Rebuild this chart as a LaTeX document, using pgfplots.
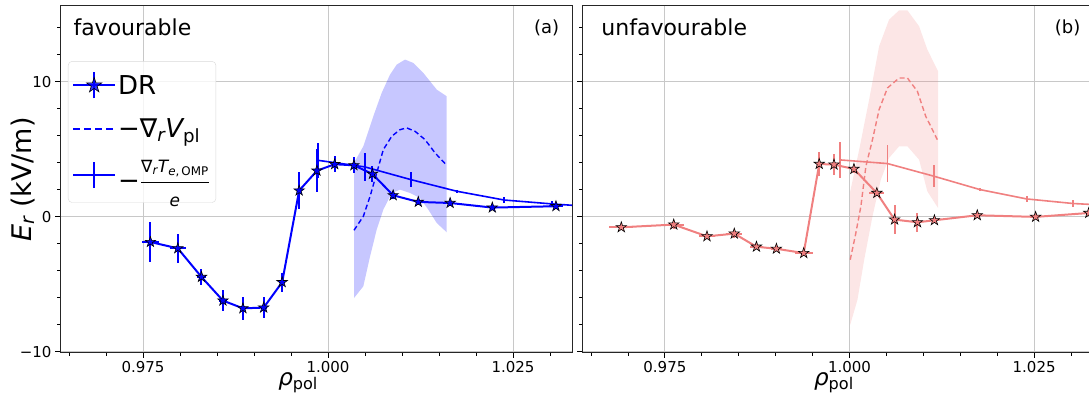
\documentclass[border=0pt]{standalone}
\usepackage{amsmath}
\usepackage{pgfplots}
\pgfplotsset{compat=1.18}
\usepackage{fontspec}
\setmainfont{DejaVu Sans}
\usetikzlibrary{plotmarks}
\definecolor{lcoral}{RGB}{240,128,128}
\definecolor{gridgray}{RGB}{200,200,200}
\pgfdeclareplotmark{pstar}{%
  \pgfpathmoveto{\pgfpointpolar{90}{\pgfplotmarksize}}%
  \pgfpathlineto{\pgfpointpolar{126}{0.382\pgfplotmarksize}}%
  \pgfpathlineto{\pgfpointpolar{162}{\pgfplotmarksize}}%
  \pgfpathlineto{\pgfpointpolar{198}{0.382\pgfplotmarksize}}%
  \pgfpathlineto{\pgfpointpolar{234}{\pgfplotmarksize}}%
  \pgfpathlineto{\pgfpointpolar{270}{0.382\pgfplotmarksize}}%
  \pgfpathlineto{\pgfpointpolar{306}{\pgfplotmarksize}}%
  \pgfpathlineto{\pgfpointpolar{342}{0.382\pgfplotmarksize}}%
  \pgfpathlineto{\pgfpointpolar{18}{\pgfplotmarksize}}%
  \pgfpathlineto{\pgfpointpolar{54}{0.382\pgfplotmarksize}}%
  \pgfpathclose
  \pgfusepathqfillstroke
}
\newcommand{\fs}[1]{\fontsize{#1}{#1}\selectfont}
\pgfplotsset{
  panel/.style={
    scale only axis, width=511pt, height=347pt,
    xmin=0.96378, xmax=1.03297, ymin=-10.1, ymax=15.6,
    xtick={0.975,1.000,1.025}, xticklabels={0.975,1.000,1.025},
    minor xtick={0.965,0.970,0.980,0.985,0.990,0.995,1.005,1.010,1.015,1.020,1.030},
    ytick={-10,0,10},
    minor ytick={-8,-6,-4,-2,2,4,6,8,12,14},
    tick pos=left, tick align=outside,
    major tick length=5pt, minor tick length=3pt,
    every tick/.style={black, line width=0.8pt},
    grid=major, major grid style={gridgray, line width=0.9pt},
    axis line style={black!85, line width=1pt},
    tick label style={font=\fs{15}},
    /pgf/number format/assume math mode=true,
    clip=true,
  },
  drstyle/.style={#1, line width=2pt, mark=pstar, mark size=5.5pt,
    mark options={draw=black, fill=#1, line width=0.6pt, solid},
    error bars/x dir=both, error bars/x explicit,
    error bars/y dir=both, error bars/y explicit,
    error bars/error mark=none, error bars/error bar style={line width=2pt}},
  testyle/.style={line width=1.6pt, mark=none,
    error bars/y dir=both, error bars/y explicit,
    error bars/error mark=none, error bars/error bar style={line width=1.6pt}},
}
\begin{document}
\begin{tikzpicture}
\useasboundingbox (0,0) rectangle (1089pt,398pt);
% ---------------- left panel ----------------
\begin{axis}[panel, at={(60pt,45pt)}, anchor=south west, width=512pt,
  yticklabels={−10,0,10},
  ylabel={{\itshape E}\textsubscript{\itshape r} (kV/m)},
  ylabel style={font=\fs{27}, at={(axis description cs:-0.073,0.5)}, anchor=center, rotate=0},
  xlabel={{\itshape ρ}\textsubscript{pol}},
  xlabel style={font=\fs{23}, at={(axis description cs:0.465,-0.095)}, anchor=base},
  reverse legend,
  legend style={at={(axis description cs:0.0156,0.841)}, anchor=north west,
    draw=black!15, rounded corners=4pt, fill=white, fill opacity=0.8, text opacity=1,
    inner xsep=4pt, inner ysep=10pt, row sep=17pt, font=\fs{26},
    /tikz/every even column/.append style={column sep=6pt}},
  legend cell align=left,
]
\addplot[fill=blue, fill opacity=0.22, draw=none, forget plot] coordinates {
(1.00351,3.98) (1.00477,5.21) (1.00612,7.43) (1.00725,9.16) (1.00838,10.52)
(1.00928,11.26) (1.01041,11.63) (1.01153,11.38) (1.01288,10.64) (1.01469,9.41) (1.01604,8.91)
(1.01604,-1.16) (1.01469,-0.47) (1.01355,0.52) (1.01243,1.38) (1.01108,1.75)
(1.00973,2.0) (1.00861,1.75) (1.00747,0.52) (1.00658,-0.96) (1.00568,-2.94)
(1.00477,-5.16) (1.00351,-6.03)};
\addplot[testyle, blue,
  legend image code/.code={
    \draw[blue, line width=2pt] (0pt,0pt) -- (42pt,0pt);
    \draw[blue, line width=2pt] (21pt,-13pt) -- (21pt,13pt);}]
 coordinates {
(0.99865,4.17) +- (0,1.3)
(1.0050,3.68) +- (0,1.05)
(1.0112,2.74) +- (0,0.55)
(1.0174,1.88) +- (0,0.1)
(1.0238,1.23) +- (0,0.2)
(1.0303,0.94) +- (0,0.25)
(1.0335,0.82) +- (0,0)};
\addlegendentry{−$\genfrac{}{}{1pt}{0}{\hbox{\fs{17}∇\textsubscript{\itshape r}{\itshape T}\textsubscript{{\itshape e},\,OMP}}}{\hbox{\fs{17}\itshape e}}$}
\addplot[blue, line width=1.4pt, dash pattern=on 5pt off 3pt,
  legend image code/.code={
    \draw[blue, line width=2pt, dash pattern=on 7pt off 4pt] (0pt,0pt) -- (42pt,0pt);}]
 coordinates {
(1.00351,-1.01) (1.00477,0.02) (1.00568,1.5) (1.00658,3.23) (1.00747,4.96)
(1.00861,5.95) (1.00973,6.44) (1.01063,6.57) (1.01176,6.32) (1.01311,5.70)
(1.01446,4.72) (1.01595,3.85)};
\addlegendentry{−∇\textsubscript{\itshape r}{\itshape V}\textsubscript{pl}}
\addplot[drstyle=blue,
  legend image code/.code={
    \draw[blue, line width=2pt] (0pt,0pt) -- (42pt,0pt);
    \draw[blue, line width=2pt] (21pt,-13pt) -- (21pt,13pt);
    \draw[black, fill=blue, line width=0.6pt] plot[mark=pstar, mark size=8pt] coordinates {(21pt,0pt)};}]
 coordinates {
(0.9760,-1.88) +- (0.0011,1.48)
(0.9797,-2.35) +- (0.0011,1.1)
(0.9829,-4.47) +- (0.0006,0.6)
(0.9858,-6.22) +- (0.0006,0.8)
(0.9885,-6.79) +- (0.0004,0.86)
(0.9913,-6.74) +- (0.0004,0.8)
(0.9938,-4.86) +- (0.0004,0.7)
(0.9961,1.93) +- (0.0003,1.4)
(0.9985,3.40) +- (0.0003,1.6)
(1.0009,3.88) +- (0.0003,0.6)
(1.0035,3.80) +- (0.0003,0.6)
(1.0060,3.16) +- (0.0003,0.6)
(1.0088,1.58) +- (0.0003,0.3)
(1.0122,1.09) +- (0.0003,0.2)
(1.0165,1.01) +- (0.0003,0.2)
(1.0222,0.67) +- (0.0003,0.2)
(1.0308,0.77) +- (0.0010,0.2)};
\addlegendentry{DR}
\node[anchor=base west, font=\fs{22}] at (axis description cs:0.0195,0.916) {favourable};
\node[anchor=base east, font=\fs{18}] at (axis description cs:0.982,0.922) {(a)};
\end{axis}
% ---------------- right panel ----------------
\begin{axis}[panel, at={(582pt,45pt)}, anchor=south west,
  yticklabels={},
  xlabel={{\itshape ρ}\textsubscript{pol}},
  xlabel style={font=\fs{23}, at={(axis description cs:0.493,-0.095)}, anchor=base},
]
\addplot[fill=lcoral, fill opacity=0.2, draw=none] coordinates {
(1.0001,1.87) (1.00131,4.96) (1.00266,8.67) (1.00401,12.62) (1.00536,14.59)
(1.00672,15.28) (1.00784,15.28) (1.00942,14.1) (1.01054,12.37) (1.01199,10.76)
(1.01199,0.64) (1.01054,1.87) (1.00942,4.22) (1.00784,5.21) (1.00672,5.21)
(1.00536,4.35) (1.00424,2.74) (1.00311,0.02) (1.00199,-3.19) (1.00108,-6.15) (1.0001,-8.0)};
\addplot[testyle, lcoral] coordinates {
(0.99874,4.20) +- (0,1.35)
(1.00514,3.93) +- (0,1.36)
(1.01145,2.99) +- (0,0.8)
(1.01768,2.0) +- (0,0.1)
(1.0240,1.31) +- (0,0.2)
(1.0303,0.97) +- (0,0.25)
(1.0335,0.88) +- (0,0)};
\addplot[lcoral, line width=1.4pt, dash pattern=on 5pt off 3pt] coordinates {
(1.0001,-3.19) (1.00086,-1.21) (1.00154,0.76) (1.00222,3.73) (1.00311,5.70)
(1.00401,7.93) (1.00514,9.53) (1.00672,10.27) (1.00784,10.27) (1.00919,9.28)
(1.01032,7.43) (1.01100,6.69) (1.01189,5.70)};
\addplot[drstyle=lcoral] coordinates {
(0.9691,-0.79) +- (0.0016,0.15)
(0.9762,-0.59) +- (0.0014,0.3)
(0.9807,-1.46) +- (0.0011,0.2)
(0.9844,-1.26) +- (0.0011,0.3)
(0.9874,-2.23) +- (0.0009,0.15)
(0.9901,-2.38) +- (0.0007,0.15)
(0.9938,-2.70) +- (0.0012,0.15)
(0.9959,3.90) +- (0.0003,0.86)
(0.9979,3.85) +- (0.0003,0.8)
(1.0006,3.53) +- (0.0003,0.3)
(1.0037,1.75) +- (0.0010,0.2)
(1.0061,-0.22) +- (0.0003,1.1)
(1.0092,-0.42) +- (0.0003,0.7)
(1.0115,-0.27) +- (0.0003,0.2)
(1.0173,0.10) +- (0.0003,0.2)
(1.0252,-0.02) +- (0.0003,0.15)
(1.0324,0.27) +- (0.0003,0.15)};
\node[anchor=base west, font=\fs{22}] at (axis description cs:0.031,0.916) {unfavourable};
\node[anchor=base east, font=\fs{18}] at (axis description cs:0.982,0.922) {(b)};
\end{axis}
\end{tikzpicture}
\end{document}
